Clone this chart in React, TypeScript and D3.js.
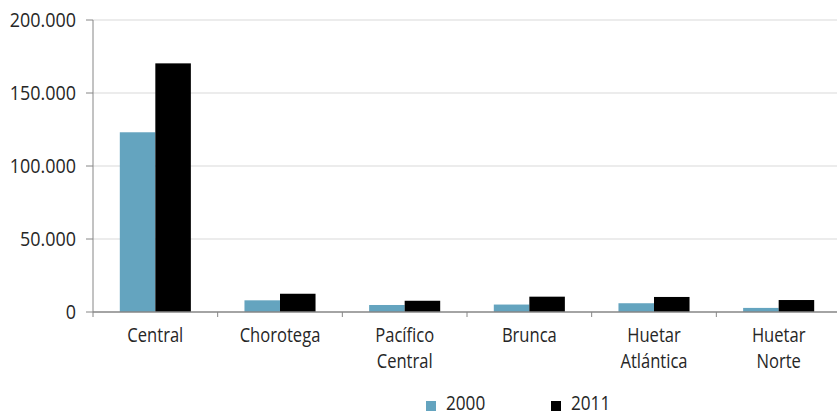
import React from "react";
import * as d3 from "d3";

// Regions and values per census year
const regions: string[][] = [
  ["Central"],
  ["Chorotega"],
  ["Pacífico", "Central"],
  ["Brunca"],
  ["Huetar", "Atlántica"],
  ["Huetar", "Norte"],
];
const years = ["2000", "2011"];
const values2000 = [123100, 8000, 4800, 5100, 6000, 2800];
const values2011 = [170300, 12500, 7700, 10500, 10300, 8200];
const yTicks = [0, 50000, 100000, 150000, 200000];
const colors = ["#64a4bf", "#000000"];

const W = 837;
const H = 413;
const FONT = "'Open Sans', 'Noto Sans', sans-serif";
const FS = 19.5;
const INK = "#262626";

// Condensed text: drawn at (x, y) and squeezed horizontally around its anchor
function Label({
  x,
  y,
  anchor = "start",
  dy,
  squeeze = 0.85,
  children,
}: {
  x: number;
  y: number;
  anchor?: "start" | "middle" | "end";
  dy?: string;
  squeeze?: number;
  children: React.ReactNode;
}) {
  return (
    <g transform={`translate(${x},${y}) scale(${squeeze},1)`}>
      <text x={0} y={0} dy={dy} textAnchor={anchor} fontFamily={FONT} fontSize={FS} fill={INK}>
        {children}
      </text>
    </g>
  );
}

export default function App() {
  const left = 93;
  const right = 841;
  const top = 20;
  const bottom = 312;

  const keys = regions.map((r) => r.join(" "));
  const x0 = d3.scaleBand<string>().domain(keys).range([left, right]).paddingInner(0.43).paddingOuter(0.215);
  const x1 = d3.scaleBand<string>().domain(years).range([0, x0.bandwidth()]);
  const y = d3.scaleLinear().domain([0, 200000]).range([bottom, top]);
  const fmt = (v: number) => d3.format(",")(v).replace(/,/g, ".");
  const step = x0.step();
  const series = [values2000, values2011];

  return (
    <svg width={W} height={H} style={{ position: "absolute", left: 0, top: 0, background: "#fff" }}>
      {/* gridlines */}
      {yTicks.filter((t) => t > 0).map((t) => (
        <line key={t} x1={left} x2={W} y1={y(t)} y2={y(t)} stroke="#d9d9d9" strokeWidth={1} />
      ))}
      {/* bars */}
      {keys.map((k, i) =>
        years.map((yr, j) => {
          const v = series[j][i];
          return (
            <rect
              key={k + yr}
              x={(x0(k) as number) + (x1(yr) as number)}
              y={y(v)}
              width={x1.bandwidth()}
              height={bottom - y(v)}
              fill={colors[j]}
            />
          );
        })
      )}
      {/* y axis */}
      <line x1={left} x2={left} y1={top} y2={bottom + 5} stroke="#868686" strokeWidth={1} />
      {yTicks.map((t) => (
        <g key={t}>
          <line x1={left - 7} x2={left} y1={y(t)} y2={y(t)} stroke="#868686" strokeWidth={1} />
          <Label x={76} y={y(t)} dy="0.36em" anchor="end" squeeze={0.92}>
            {fmt(t)}
          </Label>
        </g>
      ))}
      {/* x axis */}
      <line x1={left} x2={W} y1={bottom} y2={bottom} stroke="#868686" strokeWidth={1.5} />
      {keys.map((k, i) => (
        <line
          key={"t" + k}
          x1={left + step * (i + 1)}
          x2={left + step * (i + 1)}
          y1={bottom}
          y2={bottom + 5}
          stroke="#868686"
          strokeWidth={1}
        />
      ))}
      {regions.map((lines, i) => {
        const cx = (x0(keys[i]) as number) + x0.bandwidth() / 2;
        return lines.map((ln, li) => (
          <Label key={"l" + i + "-" + li} x={cx} y={342 + li * 26} anchor="middle">
            {ln}
          </Label>
        ));
      })}
      {/* legend */}
      {years.map((yr, j) => {
        const lx = 426 + j * 125;
        return (
          <g key={"lg" + yr}>
            <rect x={lx} y={401} width={10} height={10} fill={colors[j]} />
            <Label x={lx + 20} y={410} squeeze={0.88}>
              {yr}
            </Label>
          </g>
        );
      })}
    </svg>
  );
}
